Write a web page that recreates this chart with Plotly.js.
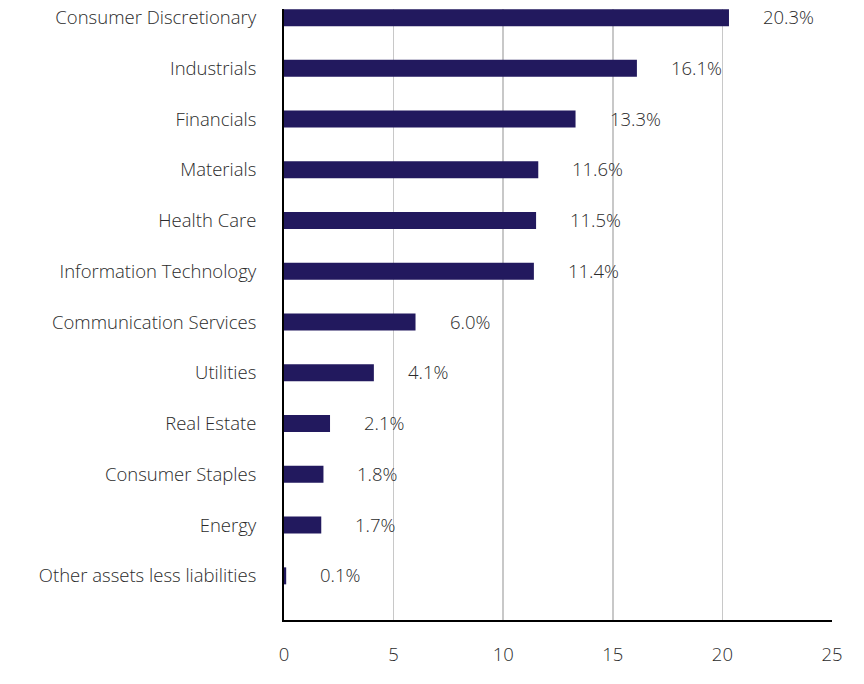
<!DOCTYPE html>
<html>
<head>
<meta charset="utf-8">
<script src="https://cdn.plot.ly/plotly-3.0.1.min.js"></script>
<style>html,body{margin:0;padding:0;background:#fff;}#chart{width:864px;height:684px;}</style>
</head>
<body>
<div id="chart"></div>
<script>
const categories = ["Consumer Discretionary","Industrials","Financials","Materials","Health Care","Information Technology","Communication Services","Utilities","Real Estate","Consumer Staples","Energy","Other assets less liabilities"];
const values = [20.3,16.1,13.3,11.6,11.5,11.4,6.0,4.1,2.1,1.8,1.7,0.1];
const valueLabels = values.map(v => v.toFixed(1) + "%");
const xTicks = [0,5,10,15,20,25];

const font = {family: "Open Sans, sans-serif", size: 18.5, color: "#2b2b2b", weight: 300};

const trace = {
  type: "bar",
  orientation: "h",
  y: categories,
  x: values,
  width: 0.335,
  marker: {color: "#22195E"},
  hoverinfo: "none"
};

const annotations = values.map((v, i) => ({
  x: v, y: categories[i], xref: "x", yref: "y",
  text: valueLabels[i], showarrow: false,
  xanchor: "left", yanchor: "middle", xshift: 32, yshift: 1,
  font: font
}));

const layout = {
  width: 864, height: 684,
  margin: {l: 284, r: 32, t: 9, b: 64},
  paper_bgcolor: "#ffffff", plot_bgcolor: "#ffffff",
  font: font,
  showlegend: false,
  xaxis: {
    range: [0, 25], tickvals: xTicks, ticktext: xTicks.map(String),
    showgrid: true, gridcolor: "#c8c8c8", gridwidth: 1.5,
    zeroline: false, showline: true, linecolor: "#000000", linewidth: 2,
    ticks: "", ticklabelstandoff: 17, tickfont: font, fixedrange: true
  },
  yaxis: {
    type: "category", range: [11.87, -0.17],
    showgrid: false, zeroline: false, showline: true, linecolor: "#000000", linewidth: 2,
    ticks: "", ticklabelstandoff: 22, tickfont: font, fixedrange: true
  },
  annotations: annotations
};

Plotly.newPlot("chart", [trace], layout, {displayModeBar: false, staticPlot: true});
</script>
</body>
</html>
